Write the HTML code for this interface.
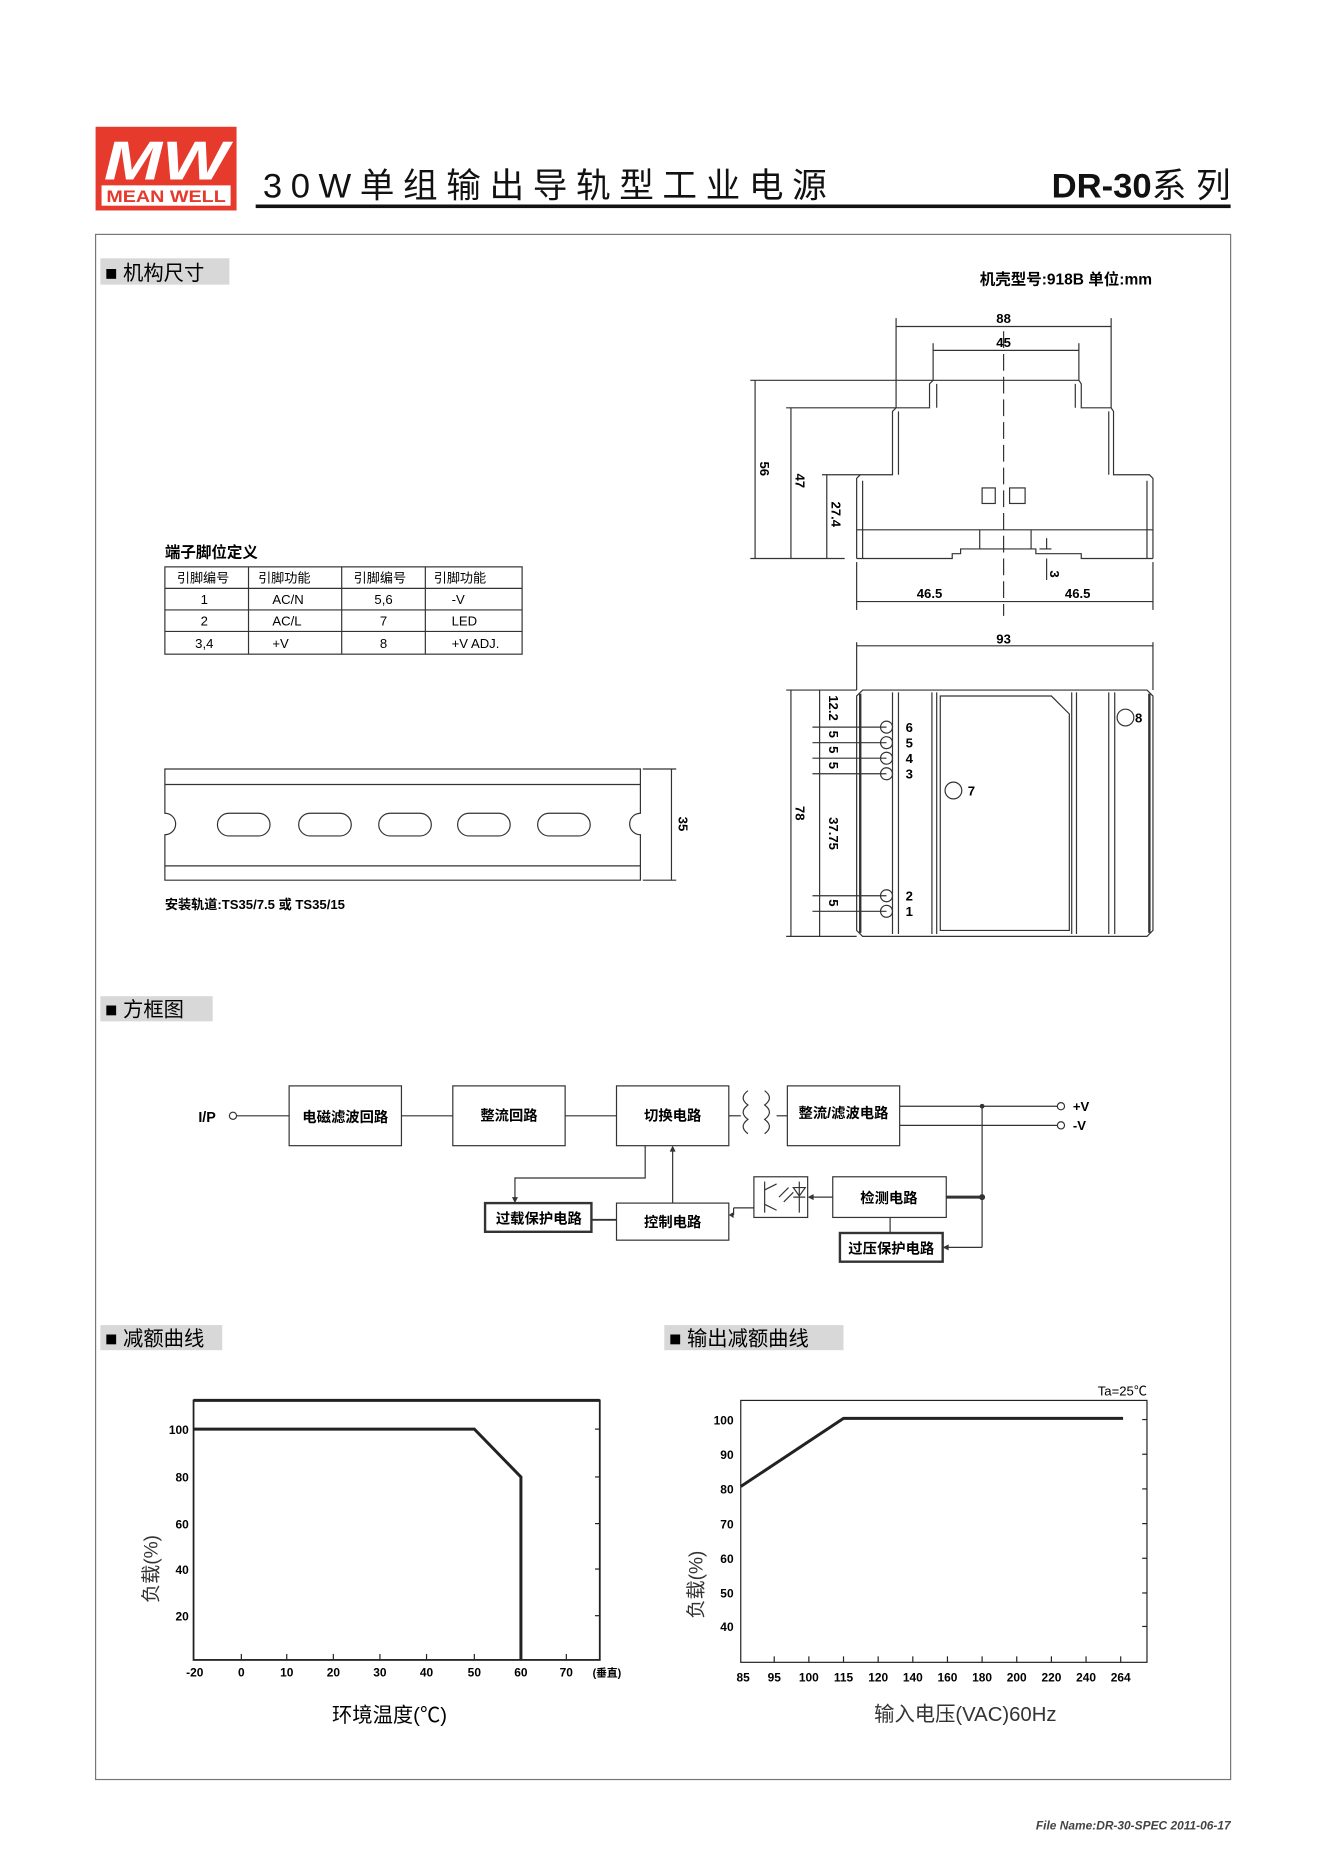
<!DOCTYPE html>
<html><head><meta charset="utf-8"><style>
html,body{margin:0;padding:0;background:#fff;}
svg{display:block}
text{font-family:"Liberation Sans","Noto Sans CJK SC",sans-serif;}
</style></head><body>
<svg width="1325" height="1874" viewBox="0 0 1109 1567" preserveAspectRatio="none" xmlns="http://www.w3.org/2000/svg">
<!-- header -->
<rect x="80" y="106" width="118" height="70" fill="#e53a2c"/>
<text x="139" y="150" text-anchor="middle" font-size="46" font-style="italic" font-weight="bold" fill="#fff" textLength="104" lengthAdjust="spacingAndGlyphs">MW</text>
<rect x="85" y="155" width="108" height="17" fill="#fff"/>
<text x="139" y="169" text-anchor="middle" font-size="14" font-weight="bold" fill="#e53a2c" textLength="100" lengthAdjust="spacingAndGlyphs">MEAN WELL</text>
<text x="220" y="165" font-size="29" fill="#111" textLength="472" lengthAdjust="spacing">30W单组输出导轨型工业电源</text>
<text x="1030" y="165" text-anchor="end" font-size="29" font-weight="bold" fill="#111">DR-30<tspan font-weight="normal">系 列</tspan></text>
<rect x="214" y="171" width="816" height="3" fill="#111"/>
<!-- outer box -->
<rect x="80" y="196" width="950" height="1292" fill="none" stroke="#777" stroke-width="1"/>
<!-- section headers -->
<rect x="84" y="216" width="108" height="22" fill="#d8d8d8"/>
<text x="88" y="234" font-size="17">■ 机构尺寸</text>
<text x="820" y="238" font-size="13" font-weight="bold">机壳型号:918B  单位:mm</text>
<rect x="84" y="833" width="94" height="21" fill="#d8d8d8"/>
<text x="88" y="850" font-size="17">■ 方框图</text>
<rect x="84" y="1108" width="102" height="21" fill="#d8d8d8"/>
<text x="88" y="1125" font-size="17">■ 减额曲线</text>
<rect x="556" y="1108" width="150" height="21" fill="#d8d8d8"/>
<text x="560" y="1125" font-size="17">■ 输出减额曲线</text>

<!-- pin table -->
<text x="138" y="466" font-size="13" font-weight="bold">端子脚位定义</text>
<g stroke="#333" stroke-width="1" fill="none">
<rect x="138" y="474" width="299" height="73"/>
<line x1="138" y1="492" x2="437" y2="492"/><line x1="138" y1="510" x2="437" y2="510"/><line x1="138" y1="528" x2="437" y2="528"/>
<line x1="208" y1="474" x2="208" y2="547"/><line x1="286" y1="474" x2="286" y2="547"/><line x1="356" y1="474" x2="356" y2="547"/>
</g>
<g font-size="11">
<text x="148" y="487">引脚编号</text><text x="216" y="487">引脚功能</text><text x="296" y="487">引脚编号</text><text x="363" y="487">引脚功能</text>
<text x="171" y="505" text-anchor="middle">1</text><text x="228" y="505">AC/N</text><text x="321" y="505" text-anchor="middle">5,6</text><text x="378" y="505">-V</text>
<text x="171" y="523" text-anchor="middle">2</text><text x="228" y="523">AC/L</text><text x="321" y="523" text-anchor="middle">7</text><text x="378" y="523">LED</text>
<text x="171" y="542" text-anchor="middle">3,4</text><text x="228" y="542">+V</text><text x="321" y="542" text-anchor="middle">8</text><text x="378" y="542">+V ADJ.</text>
</g>

<!-- DIN rail -->
<g stroke="#333" stroke-width="1" fill="none">
<path d="M138 643 H536 V680 A9 9 0 0 0 536 698 V736 H138 V698 A9 9 0 0 0 138 680 Z"/>
<line x1="138" y1="656" x2="536" y2="656"/><line x1="138" y1="724" x2="536" y2="724"/>
<rect x="182" y="680" width="44" height="19" rx="9.5"/>
<rect x="250" y="680" width="44" height="19" rx="9.5"/>
<rect x="317" y="680" width="44" height="19" rx="9.5"/>
<rect x="383" y="680" width="44" height="19" rx="9.5"/>
<rect x="450" y="680" width="44" height="19" rx="9.5"/>
<line x1="538" y1="643" x2="566" y2="643"/><line x1="538" y1="736" x2="566" y2="736"/>
<line x1="562" y1="643" x2="562" y2="736"/>
</g>
<text x="0" y="0" font-size="11" font-weight="bold" transform="translate(568,689) rotate(90)" text-anchor="middle">35</text>
<text x="138" y="760" font-size="11" font-weight="bold">安装轨道:TS35/7.5 或 TS35/15</text>

<!-- side view -->
<g stroke="#333" stroke-width="1" fill="none">
<path d="M717 467 V400 L720 397 H747 V344 L750 341 H778 V321 L781 318 H903 L905 321 V341 H930 L932 344 V397 H962 L965 400 V467"/>
<path d="M722 467 V402 M752 344 V397 M784 321 V341 M900 321 V341 M928 344 V397 M960 402 V467"/>
<line x1="717" y1="443" x2="965" y2="443"/>
<path d="M717 467 H797 V463 H804 V459 H867 V463 H905 V467 H965"/>
<line x1="820" y1="443" x2="820" y2="459"/><line x1="863" y1="443" x2="863" y2="459"/>
<rect x="822" y="408" width="11" height="13"/><rect x="845" y="408" width="13" height="13"/>
<line x1="840" y1="277" x2="840" y2="515" stroke-dasharray="14,5"/>
<line x1="750" y1="266" x2="750" y2="341"/><line x1="930" y1="266" x2="930" y2="341"/>
<line x1="750" y1="273" x2="930" y2="273"/>
<line x1="781" y1="287" x2="781" y2="318"/><line x1="903" y1="287" x2="903" y2="318"/>
<line x1="781" y1="293" x2="903" y2="293"/>
<line x1="628" y1="318" x2="781" y2="318"/><line x1="658" y1="341" x2="750" y2="341"/><line x1="688" y1="397" x2="720" y2="397"/>
<line x1="628" y1="467" x2="707" y2="467"/>
<line x1="632" y1="318" x2="632" y2="467"/><line x1="662" y1="341" x2="662" y2="467"/><line x1="692" y1="397" x2="692" y2="467"/>
<line x1="717" y1="470" x2="717" y2="510"/><line x1="965" y1="470" x2="965" y2="510"/>
<line x1="717" y1="503" x2="965" y2="503"/>
<line x1="870" y1="459" x2="880" y2="459"/><line x1="876" y1="450" x2="876" y2="459"/><line x1="876" y1="467" x2="876" y2="485"/>
</g>
<g font-size="11" font-weight="bold">
<text x="840" y="270" text-anchor="middle">88</text>
<text x="840" y="290" text-anchor="middle">45</text>
<text x="778" y="500" text-anchor="middle">46.5</text>
<text x="902" y="500" text-anchor="middle">46.5</text>
<text transform="translate(636,392) rotate(90)" text-anchor="middle">56</text>
<text transform="translate(666,402) rotate(90)" text-anchor="middle">47</text>
<text transform="translate(696,430) rotate(90)" text-anchor="middle">27.4</text>
<text transform="translate(879,480) rotate(90)" text-anchor="middle">3</text>
<text x="840" y="538" text-anchor="middle">93</text>
</g>

<!-- front view -->
<g stroke="#333" stroke-width="1" fill="none">
<line x1="717" y1="537" x2="717" y2="577"/><line x1="965" y1="537" x2="965" y2="577"/>
<line x1="717" y1="540" x2="965" y2="540"/>
<path d="M722 577 H960 L965 582 V778 L960 783 H722 L717 778 V582 Z"/>
<path d="M720 580 V780" stroke-width="2"/><path d="M962 580 V780" stroke-width="2"/>
<line x1="747" y1="579" x2="747" y2="781"/><line x1="752" y1="579" x2="752" y2="781"/>
<line x1="780" y1="579" x2="780" y2="781"/><line x1="784" y1="579" x2="784" y2="781"/>
<line x1="897" y1="579" x2="897" y2="781"/><line x1="901" y1="579" x2="901" y2="781"/>
<line x1="928" y1="579" x2="928" y2="781"/><line x1="933" y1="579" x2="933" y2="781"/>
<path d="M787 582 H880 L895 597 V778 H787 Z"/>
<circle cx="798" cy="661" r="7"/><circle cx="942" cy="600" r="7"/>
<circle cx="742" cy="608" r="5"/><circle cx="742" cy="621" r="5"/><circle cx="742" cy="634" r="5"/><circle cx="742" cy="647" r="5"/>
<circle cx="742" cy="749" r="5"/><circle cx="742" cy="762" r="5"/>
<line x1="680" y1="608" x2="742" y2="608"/><line x1="680" y1="621" x2="742" y2="621"/><line x1="680" y1="634" x2="742" y2="634"/><line x1="680" y1="647" x2="742" y2="647"/>
<line x1="680" y1="749" x2="742" y2="749"/><line x1="680" y1="762" x2="742" y2="762"/>
<line x1="658" y1="577" x2="717" y2="577"/><line x1="658" y1="783" x2="717" y2="783"/>
<line x1="662" y1="577" x2="662" y2="783"/>
<line x1="686" y1="577" x2="686" y2="783"/>
</g>
<g font-size="11" font-weight="bold">
<text x="758" y="612">6</text><text x="758" y="625">5</text><text x="758" y="638">4</text><text x="758" y="651">3</text>
<text x="758" y="753">2</text><text x="758" y="766">1</text>
<text x="810" y="665">7</text><text x="950" y="604">8</text>
<text transform="translate(666,680) rotate(90)" text-anchor="middle">78</text>
<text transform="translate(694,592) rotate(90)" text-anchor="middle">12.2</text>
<text transform="translate(694,614) rotate(90)" text-anchor="middle">5</text>
<text transform="translate(694,627) rotate(90)" text-anchor="middle">5</text>
<text transform="translate(694,640) rotate(90)" text-anchor="middle">5</text>
<text transform="translate(694,697) rotate(90)" text-anchor="middle">37.75</text>
<text transform="translate(694,755) rotate(90)" text-anchor="middle">5</text>
</g>

<!-- block diagram -->
<g stroke="#333" stroke-width="1" fill="none">
<circle cx="195" cy="933" r="3"/>
<line x1="198" y1="933" x2="242" y2="933"/>
<rect x="242" y="908" width="94" height="50"/>
<line x1="336" y1="933" x2="379" y2="933"/>
<rect x="379" y="908" width="94" height="50"/>
<line x1="473" y1="933" x2="516" y2="933"/>
<rect x="516" y="908" width="94" height="50"/>
<line x1="610" y1="933" x2="620" y2="933"/>
<path d="M626 912 q-8 6 0 12 q-8 6 0 12 q-8 6 0 12"/>
<path d="M640 912 q8 6 0 12 q8 6 0 12 q8 6 0 12"/>
<line x1="650" y1="933" x2="659" y2="933"/>
<rect x="659" y="908" width="94" height="50"/>
<line x1="753" y1="925" x2="885" y2="925"/><line x1="753" y1="941" x2="885" y2="941"/>
<circle cx="888" cy="925" r="3"/><circle cx="888" cy="941" r="3"/>
<line x1="822" y1="925" x2="822" y2="1043"/>
<rect x="697" y="984" width="95" height="34"/>
<line x1="792" y1="1001" x2="822" y2="1001" stroke-width="2.5"/>
<line x1="822" y1="1043" x2="792" y2="1043"/>
<line x1="745" y1="1018" x2="745" y2="1031"/>
<rect x="703" y="1031" width="86" height="24" stroke-width="2"/>
<rect x="631" y="984" width="45" height="34"/>
<line x1="697" y1="1001" x2="680" y2="1001"/>
<line x1="631" y1="1010" x2="614" y2="1010"/>
<line x1="614" y1="1010" x2="614" y2="1016"/>
<rect x="516" y="1006" width="94" height="31"/>
<line x1="563" y1="1006" x2="563" y2="962"/>
<path d="M540 958 V985 H431 V1002"/>
<rect x="406" y="1006" width="89" height="24" stroke-width="2"/>
<line x1="495" y1="1020" x2="516" y2="1020" stroke-width="1.5"/>
<line x1="640" y1="988" x2="640" y2="1014"/>
<path d="M640 995 L650 990 M640 1007 L650 1012"/>
<path d="M660 993 L652 1001 M664 997 L656 1005"/>
<path d="M664 993 H674 L669 1000 Z M664 1001 H674 M669 988 V1014"/>
</g>
<g fill="#333">
<path d="M676 1001 l5 -2.5 v5 z"/>
<path d="M610 1016 l4 -2.5 v5 z"/>
<path d="M563 958 l-2.5 5 h5 z"/>
<path d="M431 1006 l-2.5 -5 h5 z"/>
<path d="M789 1043 l5 -2.5 v5 z"/>
<circle cx="822" cy="925" r="2"/><circle cx="822" cy="1001" r="2.5"/>
</g>
<g font-size="12" font-weight="bold">
<text x="166" y="938" font-size="12">I/P</text>
<text x="289" y="938" text-anchor="middle">电磁滤波回路</text>
<text x="426" y="937" text-anchor="middle">整流回路</text>
<text x="563" y="937" text-anchor="middle">切换电路</text>
<text x="706" y="935" text-anchor="middle">整流/滤波电路</text>
<text x="898" y="929" font-size="11">+V</text>
<text x="898" y="945" font-size="11">-V</text>
<text x="744" y="1006" text-anchor="middle">检测电路</text>
<text x="746" y="1048" text-anchor="middle">过压保护电路</text>
<text x="563" y="1026" text-anchor="middle">控制电路</text>
<text x="451" y="1023" text-anchor="middle">过载保护电路</text>
</g>

<!-- chart 1 -->
<g stroke="#222" fill="none">
<rect x="162" y="1171" width="340" height="217" stroke-width="1.5"/>
<line x1="162" y1="1171" x2="502" y2="1171" stroke-width="2.5"/>
<polyline points="162,1195 397,1195 436,1235 436,1388" stroke-width="2.5"/>
<g stroke-width="1">
<line x1="202" y1="1383" x2="202" y2="1388"/><line x1="240" y1="1383" x2="240" y2="1388"/><line x1="279" y1="1383" x2="279" y2="1388"/><line x1="318" y1="1383" x2="318" y2="1388"/><line x1="357" y1="1383" x2="357" y2="1388"/><line x1="397" y1="1383" x2="397" y2="1388"/><line x1="474" y1="1383" x2="474" y2="1388"/>
<line x1="498" y1="1195" x2="502" y2="1195"/><line x1="498" y1="1235" x2="502" y2="1235"/><line x1="498" y1="1274" x2="502" y2="1274"/><line x1="498" y1="1312" x2="502" y2="1312"/><line x1="498" y1="1351" x2="502" y2="1351"/>
</g>
</g>
<g font-size="10" font-weight="bold" text-anchor="end">
<text x="158" y="1199">100</text><text x="158" y="1239">80</text><text x="158" y="1278">60</text><text x="158" y="1316">40</text><text x="158" y="1355">20</text>
</g>
<g font-size="10" font-weight="bold" text-anchor="middle">
<text x="163" y="1402">-20</text><text x="202" y="1402">0</text><text x="240" y="1402">10</text><text x="279" y="1402">20</text><text x="318" y="1402">30</text><text x="357" y="1402">40</text><text x="397" y="1402">50</text><text x="436" y="1402">60</text><text x="474" y="1402">70</text><text x="508" y="1402" font-size="9">(垂直)</text>
</g>
<text transform="translate(132,1312) rotate(-90)" text-anchor="middle" font-size="16" fill="#333">负载(%)</text>
<text x="326" y="1440" text-anchor="middle" font-size="17">环境温度(℃)</text>

<!-- chart 2 -->
<g stroke="#222" fill="none">
<rect x="620" y="1171" width="340" height="219" stroke-width="1"/>
<polyline points="620,1243 706,1186 940,1186" stroke-width="2.5"/>
<g stroke-width="1">
<line x1="648" y1="1385" x2="648" y2="1390"/><line x1="677" y1="1385" x2="677" y2="1390"/><line x1="706" y1="1385" x2="706" y2="1390"/><line x1="735" y1="1385" x2="735" y2="1390"/><line x1="764" y1="1385" x2="764" y2="1390"/><line x1="793" y1="1385" x2="793" y2="1390"/><line x1="822" y1="1385" x2="822" y2="1390"/><line x1="851" y1="1385" x2="851" y2="1390"/><line x1="880" y1="1385" x2="880" y2="1390"/><line x1="909" y1="1385" x2="909" y2="1390"/><line x1="938" y1="1385" x2="938" y2="1390"/>
<line x1="956" y1="1187" x2="960" y2="1187"/><line x1="956" y1="1216" x2="960" y2="1216"/><line x1="956" y1="1245" x2="960" y2="1245"/><line x1="956" y1="1274" x2="960" y2="1274"/><line x1="956" y1="1303" x2="960" y2="1303"/><line x1="956" y1="1332" x2="960" y2="1332"/><line x1="956" y1="1360" x2="960" y2="1360"/>
</g>
</g>
<text x="960" y="1167" text-anchor="end" font-size="11">Ta=25℃</text>
<g font-size="10" font-weight="bold" text-anchor="end">
<text x="614" y="1191">100</text><text x="614" y="1220">90</text><text x="614" y="1249">80</text><text x="614" y="1278">70</text><text x="614" y="1307">60</text><text x="614" y="1336">50</text><text x="614" y="1364">40</text>
</g>
<g font-size="10" font-weight="bold" text-anchor="middle">
<text x="622" y="1406">85</text><text x="648" y="1406">95</text><text x="677" y="1406">100</text><text x="706" y="1406">115</text><text x="735" y="1406">120</text><text x="764" y="1406">140</text><text x="793" y="1406">160</text><text x="822" y="1406">180</text><text x="851" y="1406">200</text><text x="880" y="1406">220</text><text x="909" y="1406">240</text><text x="938" y="1406">264</text>
</g>
<text transform="translate(588,1325) rotate(-90)" text-anchor="middle" font-size="16" fill="#333">负载(%)</text>
<text x="808" y="1439" text-anchor="middle" font-size="17" fill="#333">输入电压(VAC)60Hz</text>

<text x="1030" y="1530" text-anchor="end" font-size="10" font-style="italic" font-weight="bold" fill="#444">File Name:DR-30-SPEC   2011-06-17</text>
</svg>
</body></html>
